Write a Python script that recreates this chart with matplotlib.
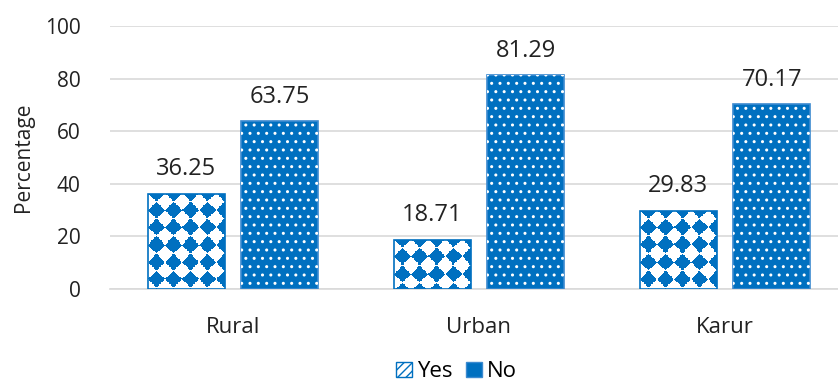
import numpy as np
import matplotlib.pyplot as plt
from matplotlib.patches import Patch
from matplotlib.colors import to_rgba

plt.rcParams['font.family'] = ['Open Sans', 'DejaVu Sans']

categories = ['Rural', 'Urban', 'Karur']
yes_vals = [36.25, 18.71, 29.83]
no_vals = [63.75, 81.29, 70.17]
yticks = [0, 20, 40, 60, 80, 100]

blue = '#0070C0'
grid_c = '#D9D9D9'

fig = plt.figure(figsize=(8.38, 3.87), dpi=100)
ax = fig.add_axes([110 / 838, 98 / 387, 738 / 838, 263 / 387])
ax.set_xlim(-0.5, 2.5)
ax.set_ylim(0, 100)

x = np.arange(len(categories))
w = 0.313
off = 0.191

yes_bars = ax.bar(x - off, yes_vals, w, color='none', edgecolor=blue, lw=1.2, zorder=4)
no_bars = ax.bar(x + off, no_vals, w, color=blue, edgecolor='#3C8AD0', lw=1.2, zorder=3)
# white dotted overlay on the "No" bars
ax.bar(x + off, no_vals, w, color='none', edgecolor='white', lw=0, hatch='..', zorder=3.5)


def diamond_fill(bar, period=17.0):
    # checker of rounded diamonds, drawn as an image clipped to the bar
    bb = bar.get_window_extent()
    wpx = max(int(round(bb.width)), 1)
    hpx = max(int(round(bb.height)), 1)
    yy, xx = np.mgrid[0:hpx, 0:wpx] + 0.5
    on = (np.cos(2 * np.pi * (xx - period / 2) / period)
          + np.cos(2 * np.pi * yy / period)) > 0
    img = np.ones((hpx, wpx, 4))
    img[on] = to_rgba(blue)
    x0, y0 = bar.get_x(), bar.get_y()
    im = ax.imshow(img, extent=(x0, x0 + bar.get_width(), y0, y0 + bar.get_height()),
                   origin='upper', interpolation='nearest', aspect='auto', zorder=3)
    im.set_clip_path(bar)


for b in yes_bars:
    diamond_fill(b)

ax.set_xlim(-0.5, 2.5)
ax.set_ylim(0, 100)

for bars, vals in ((yes_bars, yes_vals), (no_bars, no_vals)):
    for b, v in zip(bars, vals):
        ax.annotate(f'{v:.2f}', (b.get_x() + b.get_width() / 2, v),
                    xytext=(0, 9), textcoords='offset points',
                    ha='center', va='bottom', fontsize=17, color='#222222')

ax.set_yticks(yticks)
ax.set_xticks(x)
ax.set_xticklabels(categories, fontsize=16)
ax.tick_params(axis='y', labelsize=15, length=0, pad=21, colors='#222222')
ax.tick_params(axis='x', length=0, pad=20, colors='#222222')
ax.yaxis.grid(True, color=grid_c, lw=1.2)
ax.set_axisbelow(True)
for s in ['top', 'right', 'left']:
    ax.spines[s].set_visible(False)
ax.spines['bottom'].set_color(grid_c)
ax.spines['bottom'].set_linewidth(1.2)
ax.set_ylabel('Percentage', fontsize=15, labelpad=8, color='#222222')

handles = [Patch(facecolor='white', edgecolor=blue, hatch='////'),
           Patch(facecolor=blue, edgecolor='#3C8AD0')]
fig.legend(handles, ['Yes', 'No'], loc='lower center', bbox_to_anchor=(0.545, -0.04),
           ncol=2, frameon=False, fontsize=16, handlelength=0.7, handleheight=0.7,
           handletextpad=0.25, columnspacing=0.6)

fig.savefig('out.png', dpi=100)
